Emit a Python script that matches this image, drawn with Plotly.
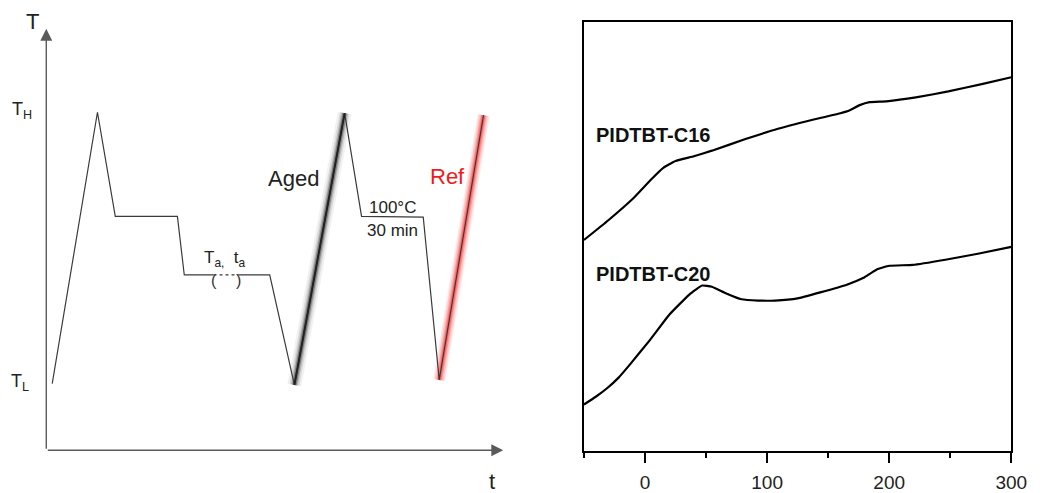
import plotly.graph_objects as go

FONT = "Arial, Liberation Sans, sans-serif"
W, H = 1048, 493


def px(x):
    """Horizontal pixel position -> paper fraction."""
    return x / W


def py(y):
    """Vertical pixel position (from top) -> paper fraction."""
    return 1 - y / H


# ---- Left panel: thermal protocol (schematic, arbitrary units) ----
profile_t = [0.13, 1.12, 1.51, 2.87, 3.02, 3.66, None, 4.20, 4.89, 5.43, 6.53, 6.90, 8.25, 8.60, 9.57]
profile_T = [1.58, 8.02, 5.55, 5.55, 4.16, 4.16, None, 4.16, 4.16, 1.55, 8.00, 5.55, 5.53, 1.67, 7.95]

anneal_t = [3.66, 4.20]          # isothermal annealing window (Ta, ta)
anneal_T = [4.16, 4.16]

aged_t = [5.43, 6.53]            # heating scan of the aged sample
aged_T = [1.55, 8.00]
ref_t = [8.60, 9.57]             # heating scan of the reference
ref_T = [1.67, 7.95]

# ---- Right panel: DSC heating traces ----
c16_x = [-50, -30, -10, 5, 15, 25, 40, 54.8, 82.3, 108.9, 143.5, 160.0,
         167.7, 175.8, 183.9, 197.6, 221.8, 248.4, 275.8, 300]
c16_y = [49.2, 53.8, 58.8, 63.3, 66.0, 67.6, 68.7, 70.0, 72.7, 75.1, 77.6, 78.7,
         79.4, 80.6, 81.3, 81.5, 82.4, 83.8, 85.5, 87.1]

c20_x = [-50, -40.3, -30.6, -21.8, -12.1, 4.0, 20.2, 36.3, 46.8, 54.8, 66.1, 79.0, 92.7,
         106.5, 125.0, 143.5, 165.3, 179.0, 189.5, 200.0, 219.4, 246.0, 272.6, 300]
c20_y = [10.9, 12.7, 14.8, 17.1, 20.3, 25.9, 31.9, 36.5, 38.6, 38.3, 36.8, 35.4, 35.1,
         35.1, 35.6, 37.0, 38.8, 40.4, 42.3, 43.2, 43.4, 44.6, 46.0, 47.6]

x_ticks = [0, 100, 200, 300]

LINE = "#3a3a3a"
AXIS = "#5a5a5a"

fig = go.Figure()

# soft halo around the aged heating scan
for w, op in [(14, 0.05), (10, 0.09), (7, 0.16), (4.5, 0.3)]:
    fig.add_trace(go.Scatter(x=aged_t, y=aged_T, mode="lines",
                             line=dict(color="black", width=w), opacity=op,
                             hoverinfo="skip", xaxis="x", yaxis="y"))
# red halo around the reference scan
for w, op in [(12, 0.1), (9, 0.16), (6, 0.28), (3.5, 0.4)]:
    fig.add_trace(go.Scatter(x=ref_t, y=ref_T, mode="lines",
                             line=dict(color="#ff2020", width=w), opacity=op,
                             hoverinfo="skip", xaxis="x", yaxis="y"))

fig.add_trace(go.Scatter(x=profile_t, y=profile_T, mode="lines",
                         line=dict(color=LINE, width=1.2), connectgaps=False,
                         xaxis="x", yaxis="y"))
fig.add_trace(go.Scatter(x=anneal_t, y=anneal_T, mode="lines",
                         line=dict(color=LINE, width=1.2, dash="dot"),
                         xaxis="x", yaxis="y"))
fig.add_trace(go.Scatter(x=aged_t, y=aged_T, mode="lines",
                         line=dict(color="#222222", width=2),
                         xaxis="x", yaxis="y"))

# DSC curves
for xs, ys in [(c16_x, c16_y), (c20_x, c20_y)]:
    fig.add_trace(go.Scatter(x=xs, y=ys, mode="lines",
                             line=dict(color="black", width=2.2, shape="spline", smoothing=0.35),
                             xaxis="x2", yaxis="y2"))

ann = []
# axes with arrowheads
ann.append(dict(x=10, y=0, ax=0, ay=0, xref="x", yref="y", axref="x", ayref="y",
                text="", showarrow=True, arrowhead=2, arrowsize=1.7, arrowwidth=1.4,
                arrowcolor=AXIS, standoff=0))
ann.append(dict(x=0, y=10, ax=0, ay=0, xref="x", yref="y", axref="x", ayref="y",
                text="", showarrow=True, arrowhead=2, arrowsize=1.7, arrowwidth=1.4,
                arrowcolor=AXIS, standoff=0))


def label(text, x, y, size, color="#222222", ref="", bold=False, xanchor="center"):
    t = f"<b>{text}</b>" if bold else text
    ann.append(dict(x=x, y=y, xref="x" + ref, yref="y" + ref, text=t, showarrow=False,
                    xanchor=xanchor, yanchor="middle",
                    font=dict(family=FONT, size=size, color=color)))


def paper_label(text, x, y, size, color="#222222"):
    ann.append(dict(x=px(x), y=py(y), xref="paper", yref="paper", text=text, showarrow=False,
                    xanchor="center", yanchor="middle",
                    font=dict(family=FONT, size=size, color=color)))


# axis titles and level markers sit outside the schematic's plotting range
paper_label("T", 33, 22, 22)
paper_label("t", 500, 485, 22)
paper_label("T<sub>H</sub>", 22, 111, 18)
paper_label("T<sub>L</sub>", 20, 386, 18)

label("T<sub>a,</sub>  t<sub>a</sub>", 3.90, 4.55, 17)
label("(", 3.66, 4.04, 16, color="#333333")
label(")", 4.20, 4.04, 16, color="#333333")
label("Aged", 5.41, 6.45, 22)
label("Ref", 8.79, 6.49, 22, color="#ee1c1c")
label("100°C", 7.58, 5.76, 17)
label("30 min", 7.58, 5.22, 17)

label("PIDTBT-C16", -42, 73.7, 20, color="#111111", ref="2", bold=True, xanchor="left")
label("PIDTBT-C20", -42, 41.3, 20, color="#111111", ref="2", bold=True, xanchor="left")

fig.update_layout(
    width=W, height=H,
    margin=dict(l=0, r=0, t=0, b=0),
    paper_bgcolor="white", plot_bgcolor="white",
    showlegend=False,
    annotations=ann,
    xaxis=dict(domain=[px(47), px(511)], range=[0, 10], visible=False),
    yaxis=dict(domain=[py(454), py(29)], range=[0, 10], visible=False),
    xaxis2=dict(domain=[px(593), px(1027)], range=[-50, 300],
                anchor="y2", showline=True, linecolor="black", linewidth=1.6,
                mirror=True, showgrid=False, zeroline=False,
                tickmode="array", tickvals=x_ticks,
                ticks="outside", ticklen=10, tickwidth=1.6, tickcolor="black",
                ticklabelstandoff=3,
                minor=dict(dtick=50, tick0=-50, ticks="outside", ticklen=5,
                           tickwidth=1.6, tickcolor="black", showgrid=False),
                tickfont=dict(family=FONT, size=19, color="#222222")),
    yaxis2=dict(domain=[py(455), py(22)], range=[0, 100], anchor="x2",
                showline=True, linecolor="black", linewidth=1.6, mirror=True,
                showgrid=False, zeroline=False, showticklabels=False, ticks=""),
)

fig.write_html("out.html")
